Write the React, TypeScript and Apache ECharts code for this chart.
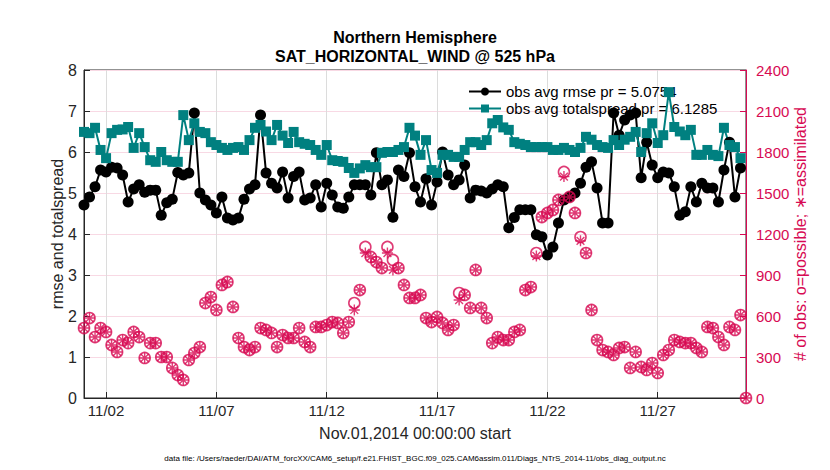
import React, { useEffect, useRef } from "react";
import * as echarts from "echarts";

// ---- data (6-hourly bins, 2014-11-01 00:00 .. 2014-12-01 00:00) ----
const START_UTC = Date.UTC(2014, 10, 1, 0, 0, 0);
const N_BINS = 121;
const categories: string[] = [];
for (let i = 0; i < N_BINS; i++) {
  const d = new Date(START_UTC + i * 6 * 3600 * 1000);
  const mm = String(d.getUTCMonth() + 1).padStart(2, "0");
  const dd = String(d.getUTCDate()).padStart(2, "0");
  const hh = String(d.getUTCHours()).padStart(2, "0");
  categories.push(`${mm}/${dd} ${hh}:00`);
}

const tickLabels = ["11/02", "11/07", "11/12", "11/17", "11/22", "11/27"];

const rmse: (number | null)[] = [
  4.71, 4.9, 5.15, 5.56, 5.51, 5.63, 5.61, 5.44, 4.78, 5.1,
  5.2, 5.02, 5.07, 5.07, 4.46, 4.76, 4.85, 5.5, 5.44, 5.49,
  6.95, 5.0, 4.83, 4.71, 4.51, 4.9, 4.39, 4.34, 4.39, 4.85,
  5.1, 5.2, 6.9, 5.49, 5.24, 5.12, 5.51, 4.88, 5.4, 5.51,
  4.83, 4.88, 5.2, 4.66, 5.24, 4.95, 4.66, 4.63, 4.9, 5.2,
  5.2, 5.2, 4.95, 5.98, 5.2, 5.32, 4.41, 5.56, 5.4, 5.98,
  5.15, 4.78, 5.35, 4.71, 5.27, 6.0, 5.44, 5.2, 5.32, 5.68,
  4.88, 5.07, 5.05, 5.0, 5.1, 5.2, 5.15, 4.15, 4.4, 4.59,
  4.59, 4.59, 3.98, 3.93, 3.49, 3.68, 4.27, 4.83, 4.9, 5.0,
  5.24, 5.63, 5.76, 5.12, 4.27, 4.27, 6.95, 6.41, 6.78, 6.9,
  6.95, 5.37, 6.24, 5.68, 5.37, 5.51, 5.49, 5.15, 4.46, 4.54,
  5.15, 4.78, 5.24, 5.12, 5.12, 4.78, 5.56, 6.24, 4.9, 5.61,
  null,
];

const totalspread: (number | null)[] = [
  6.49, 6.46, 6.59, 6.05, 5.85, 6.46, 6.54, 6.55, 6.61, 6.1,
  6.46, 6.12, 5.8, 5.76, 6.0, 5.8, 5.76, 5.76, 6.9, 6.29,
  6.7, 6.49, 6.46, 6.24, 6.17, 6.1, 6.05, 6.1, 6.12, 6.05,
  6.29, 6.59, 6.66, 6.5, 6.29, 6.66, 6.4, 6.22, 6.49, 6.24,
  6.2, 6.17, 6.05, 5.93, 6.17, 5.8, 5.78, 5.76, 5.61, 5.49,
  5.6, 5.68, 5.63, 5.63, 5.98, 6.0, 6.0, 6.05, 6.12, 6.59,
  6.4, 5.93, 6.29, 5.56, 5.49, 5.93, 5.93, 5.88, 5.88, 6.05,
  6.24, 6.24, 6.17, 6.29, 6.7, 6.78, 6.6, 6.54, 6.24, 6.2,
  6.17, 6.12, 6.12, 6.12, 6.12, 6.05, 6.05, 6.1, 6.05, 6.0,
  6.1, 6.37, 6.3, 6.17, 6.12, 6.1, 6.29, 6.17, 6.3, 6.37,
  6.49, 6.0, 6.46, 6.7, 6.22, 6.41, 7.46, 6.61, 6.5, 6.41,
  6.54, 5.93, 5.93, 6.05, 5.93, 5.9, 6.59, 6.17, 6.12, 5.85,
  null,
];

const obsPossible: number[] = [
  512, 585, 446, 512, 483, 388, 337, 424, 402, 483,
  446, 293, 402, 402, 300, 300, 220, 168, 132, 278,
  329, 373, 695, 739, 644, 827, 849, 666, 439, 373,
  351, 373, 512, 498, 476, 373, 461, 439, 439, 512,
  410, 373, 520, 520, 534, 556, 549, 476, 556, 695,
  790, 1105, 1032, 995, 951, 1105, 1010, 951, 827, 732,
  732, 754, 585, 556, 593, 549, 498, 534, 768, 754,
  659, 937, 659, 585, 402, 446, 424, 424, 483, 498,
  790, 812, 1061, 1324, 1354, 1376, 1449, 1654, 1471, 1354,
  1178, 1061, 644, 424, 351, 337, 315, 366, 373, 220,
  337, 227, 205, 256, 183, 315, 351, 424, 410, 402,
  402, 366, 337, 520, 512, 446, 388, 520, 498, 607,
  0,
];

const obsAssimilated: number[] = [
  512, 585, 446, 512, 483, 388, 337, 424, 402, 483,
  446, 293, 402, 402, 300, 300, 220, 168, 132, 278,
  329, 373, 695, 739, 644, 827, 849, 666, 439, 373,
  351, 373, 512, 498, 476, 373, 461, 439, 439, 512,
  410, 373, 520, 520, 534, 556, 549, 476, 556, 644,
  790, 1061, 1032, 995, 951, 1061, 937, 951, 827, 732,
  732, 754, 585, 556, 593, 549, 498, 534, 717, 754,
  659, 937, 659, 585, 402, 446, 424, 424, 483, 498,
  790, 812, 1039, 1324, 1354, 1376, 1449, 1620, 1471, 1354,
  1150, 1061, 644, 424, 351, 337, 315, 366, 373, 220,
  337, 227, 205, 256, 183, 315, 351, 424, 410, 402,
  402, 366, 337, 520, 512, 446, 388, 520, 498, 607,
  0,
];

const rmseName = "obs avg rmse pr = 5.0754";
const spreadName = "obs avg totalspread pr = 6.1285";
const titleLines = ["Northern Hemisphere", "SAT_HORIZONTAL_WIND @ 525 hPa"];

const MAGENTA = "#D70A53";
const TEAL = "#008080";
const AXIS = "#262626";
const FONT = "'Liberation Sans', Arial, Helvetica, sans-serif";
const ASTERISK =
  "path://M0,-10L0,10M-10,0L10,0M-7.07,-7.07L7.07,7.07M-7.07,7.07L7.07,-7.07";

const isTick = (idx: number) => {
  const c = categories[idx];
  return !!c && c.endsWith("00:00") && tickLabels.includes(c.slice(0, 5));
};

export default function App() {
  const ref = useRef<HTMLDivElement>(null);
  useEffect(() => {
    if (!ref.current) return;
    const chart = echarts.init(ref.current, undefined, { renderer: "svg" });
    chart.setOption({
      animation: false,
      textStyle: { fontFamily: FONT },
      legend: {
        orient: "vertical",
        left: 468,
        top: 84,
        itemWidth: 32,
        itemHeight: 10,
        itemGap: 2,
        padding: 0,
        z: 1,
        data: [rmseName, spreadName],
        textStyle: { fontSize: 15, color: "#000", fontFamily: FONT },
      },
      grid: {
        left: 84,
        right: 84,
        top: 70,
        bottom: 72,
        show: true,
        borderColor: AXIS,
        borderWidth: 1,
        backgroundColor: "transparent",
      },
      xAxis: {
        type: "category",
        data: categories,
        boundaryGap: false,
        axisLine: { show: true, lineStyle: { color: AXIS, width: 1 } },
        axisTick: {
          show: true,
          inside: true,
          length: 6,
          interval: (i: number) => isTick(i),
          lineStyle: { color: AXIS },
        },
        axisLabel: {
          interval: (i: number) => isTick(i),
          formatter: (v: string) => v.slice(0, 5),
          color: AXIS,
          fontSize: 15,
          margin: 5,
          fontFamily: FONT,
        },
        splitLine: {
          show: true,
          interval: (i: number) => isTick(i),
          lineStyle: { color: "#dcdcdc", width: 1 },
        },
        name: "Nov.01,2014 00:00:00 start",
        nameLocation: "middle",
        nameGap: 27,
        nameMoveOverlap: false,
        nameTextStyle: { fontSize: 16, color: AXIS, fontFamily: FONT },
      },
      yAxis: [
        {
          type: "value",
          position: "left",
          min: 0,
          max: 8,
          interval: 1,
          axisLine: { show: true, lineStyle: { color: AXIS, width: 1 } },
          axisTick: { show: true, inside: true, length: 6, lineStyle: { color: AXIS } },
          axisLabel: { color: AXIS, fontSize: 16, margin: 7, fontFamily: FONT },
          splitLine: { show: false },
          name: "rmse and totalspread",
          nameLocation: "middle",
          nameGap: 19,
          nameMoveOverlap: false,
          nameTextStyle: { fontSize: 16, color: AXIS, fontFamily: FONT },
        },
        {
          type: "value",
          position: "right",
          min: 0,
          max: 2400,
          interval: 300,
          axisLine: { show: true, lineStyle: { color: MAGENTA, width: 1 } },
          axisTick: { show: true, inside: true, length: 6, lineStyle: { color: MAGENTA } },
          axisLabel: {
            color: MAGENTA,
            fontSize: 15,
            margin: 10,
            fontFamily: FONT,
            formatter: (v: number) => String(v),
          },
          splitLine: { show: true, lineStyle: { color: "#f8d9e4", width: 1 } },
          name: "# of obs: o=possible; \u2217=assimilated",
          nameLocation: "middle",
          nameGap: 46,
          nameMoveOverlap: false,
          nameTextStyle: { fontSize: 16, color: MAGENTA, fontFamily: FONT },
        },
      ],
      series: [
        {
          name: rmseName,
          type: "line",
          data: rmse,
          yAxisIndex: 0,
          symbol: "circle",
          symbolSize: 11,
          showSymbol: true,
          showAllSymbol: true,
          itemStyle: { color: "#000" },
          lineStyle: { color: "#000", width: 2 },
          z: 3,
        },
        {
          name: spreadName,
          type: "line",
          data: totalspread,
          yAxisIndex: 0,
          symbol: "rect",
          symbolSize: 10,
          showSymbol: true,
          showAllSymbol: true,
          itemStyle: { color: TEAL },
          lineStyle: { color: TEAL, width: 2 },
          z: 3,
        },
        {
          name: "possible",
          type: "scatter",
          data: obsPossible,
          yAxisIndex: 1,
          symbol: "circle",
          symbolSize: 11,
          itemStyle: { color: "rgba(0,0,0,0)", borderColor: MAGENTA, borderWidth: 1.6 },
          z: 4,
        },
        {
          name: "assimilated",
          type: "scatter",
          data: obsAssimilated,
          yAxisIndex: 1,
          symbol: ASTERISK,
          symbolSize: 11,
          itemStyle: { color: "rgba(0,0,0,0)", borderColor: MAGENTA, borderWidth: 1.4 },
          z: 4,
        },
      ],
      graphic: [
        {
          type: "text",
          x: 415,
          y: 37,
          style: {
            text: titleLines[0],
            align: "center",
            verticalAlign: "middle",
            fontSize: 16,
            fontWeight: "bold",
            fill: "#000",
            fontFamily: FONT,
          },
        },
        {
          type: "text",
          x: 415,
          y: 56,
          style: {
            text: titleLines[1],
            align: "center",
            verticalAlign: "middle",
            fontSize: 16,
            fontWeight: "bold",
            fill: "#000",
            fontFamily: FONT,
          },
        },
        {
          type: "text",
          left: "center",
          top: 454,
          style: {
            text:
              "data file: /Users/raeder/DAI/ATM_forcXX/CAM6_setup/f.e21.FHIST_BGC.f09_025.CAM6assim.011/Diags_NTrS_2014-11/obs_diag_output.nc",
            fontSize: 8,
            fill: "#000",
            fontFamily: FONT,
          },
        },
      ],
    });
    return () => chart.dispose();
  }, []);
  return (
    <div
      ref={ref}
      style={{ position: "absolute", left: 0, top: 0, width: 830, height: 470 }}
    />
  );
}
